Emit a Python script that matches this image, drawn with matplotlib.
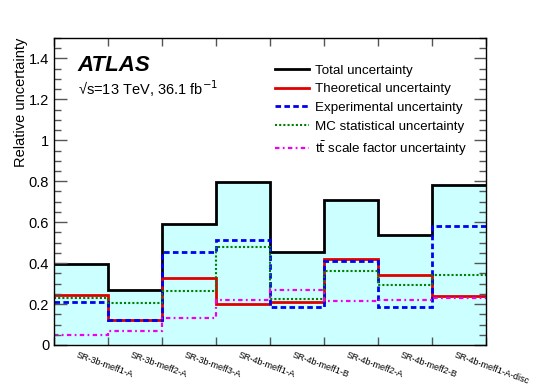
import matplotlib
matplotlib.use("Agg")
import matplotlib.pyplot as plt
import numpy as np
from matplotlib.ticker import MultipleLocator

plt.rcParams["font.family"] = ["Liberation Sans", "DejaVu Sans"]

# Signal regions (one bin each)
regions = ["SR-3b-meff1-A", "SR-3b-meff2-A", "SR-3b-meff3-A", "SR-4b-meff1-A",
           "SR-4b-meff1-B", "SR-4b-meff2-A", "SR-4b-meff2-B", "SR-4b-meff1-A-disc"]

# Relative uncertainties
total_unc = [0.395, 0.268, 0.59, 0.797, 0.455, 0.707, 0.535, 0.784]
theory_unc = [0.242, 0.122, 0.325, 0.200, 0.212, 0.422, 0.343, 0.240]
exp_unc = [0.212, 0.124, 0.455, 0.512, 0.188, 0.410, 0.188, 0.580]
mcstat_unc = [0.229, 0.204, 0.262, 0.478, 0.224, 0.363, 0.292, 0.343]
ttbar_sf_unc = [0.050, 0.069, 0.133, 0.220, 0.268, 0.216, 0.220, 0.228]

edges = np.arange(len(regions) + 1)
# labels start just left of each bin centre
label_pos = edges[:-1] + 0.44

fig = plt.figure(figsize=(5.4, 3.84), dpi=100)
ax = fig.add_axes([0.1, 0.1016, 0.8, 0.7995])

ax.stairs(total_unc, edges, fill=True, color="#ccffff", lw=0)
ax.stairs(total_unc, edges, baseline=None, color="black", lw=2, label="Total uncertainty")
ax.stairs(theory_unc, edges, baseline=None, color="#e00000", lw=2, label="Theoretical uncertainty")
ax.stairs(exp_unc, edges, baseline=None, color="#0000ee", lw=2, linestyle=(0, (2, 1.2)),
          label="Experimental uncertainty")
ax.stairs(mcstat_unc, edges, baseline=None, color="#008000", lw=1.5, linestyle=(0, (1, 1)),
          label="MC statistical uncertainty")
ax.stairs(ttbar_sf_unc, edges, baseline=None, color="#ee00ee", lw=1.6, linestyle=(0, (2, 1.5, 0.8, 1.5)),
          label=r"t$\bar{\mathrm{t}}$ scale factor uncertainty")

ax.set_xlim(edges[0], edges[-1])
ax.set_ylim(0, 1.5)

# x ticks on the bin edges, labels near the bin centres
ax.set_xticks(edges)
ax.set_xticklabels([])
ax.set_xticks(label_pos, minor=True)
ax.set_xticklabels(regions, minor=True, rotation=-20, ha="left", va="top",
                   rotation_mode="anchor", fontsize=6.5)
ax.tick_params(axis="x", which="major", direction="in", length=6, width=1, top=True, color="#555555")
ax.tick_params(axis="x", which="minor", length=0, pad=4)

ax.yaxis.set_major_locator(MultipleLocator(0.2))
ax.yaxis.set_minor_locator(MultipleLocator(0.05))
ax.set_yticks([0, 0.2, 0.4, 0.6, 0.8, 1.0, 1.2, 1.4])
ax.set_yticklabels(["0", "0.2", "0.4", "0.6", "0.8", "1", "1.2", "1.4"])
ax.tick_params(axis="y", which="major", direction="in", length=9, width=1, right=True,
               labelsize=10.5, color="#555555")
ax.tick_params(axis="y", which="minor", direction="in", length=5, width=1, right=True, color="#555555")

for spine in ax.spines.values():
    spine.set_linewidth(1)

ax.set_ylabel("Relative uncertainty", loc="top", fontsize=10.5, labelpad=0.5)

ax.text(0.055, 0.91, "ATLAS", transform=ax.transAxes, fontsize=16, fontweight="bold",
        fontstyle="italic", va="center")
ax.text(0.055, 0.835, "√s=13 TeV, 36.1 fb$^{\\mathrm{-1}}$", transform=ax.transAxes,
        fontsize=10.5, va="center")

ax.legend(loc="upper left", bbox_to_anchor=(0.5, 0.932), frameon=False, fontsize=9.6,
          handlelength=2.5, handletextpad=0.5, labelspacing=0.48, borderaxespad=0)

fig.savefig("out.png", dpi=100)
